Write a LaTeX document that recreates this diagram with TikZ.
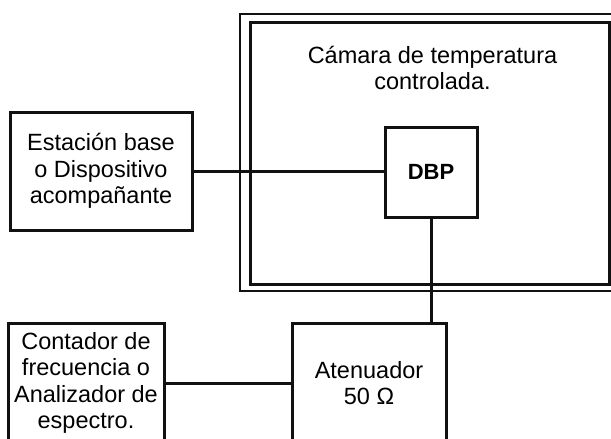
\documentclass[tikz,border=0pt]{standalone}
\usepackage{fontspec}
\setmainfont{Liberation Sans}
\usepackage{xcolor}
\usepackage{tikz}
\definecolor{trazo}{HTML}{111111}
\tikzset{caja/.style={draw=trazo, rectangle, line width=3pt, align=center, inner sep=0pt, font=\fontsize{23.5}{26.5}\selectfont}}

\begin{document}
\begin{tikzpicture}[x=1pt, y=-1pt]%
\path[use as bounding box, clip] (0,0) rectangle (611,439);%
\fill[white] (0,0) rectangle (611,439);%
\draw[draw=trazo, line width=2pt] (240,14) rectangle (622,291);%
\node[draw=trazo, rectangle, line width=3pt, minimum width=359pt, minimum height=262pt] (camara) at (429.5,153) {};%
\node[align=center, font=\fontsize{23.5}{26.5}\selectfont] (titulo) at (432.5,68) {Cámara de temperatura\\controlada.};%
\node[caja, minimum width=92pt, minimum height=90pt, font=\fontsize{22}{26}\selectfont\bfseries] (dbp) at (431,172) {DBP};%
\node[caja, minimum width=182pt, minimum height=118pt] (estacion) at (101,171) {Estación base\\o Dispositivo\\acompañante};%
\node[caja, minimum width=156pt, minimum height=120pt] (contador) at (86,383) {Contador de\\frecuencia o\\Analizador de\\espectro.};%
\node[caja, minimum width=154pt, minimum height=120pt] (atenuador) at (369,383) {Atenuador\\50 Ω};%
\draw[draw=trazo, line width=3pt] (estacion.east) -- (estacion.east -| dbp.west);%
\draw[draw=trazo, line width=3pt] (dbp.south) -- (dbp.south |- atenuador.north);%
\draw[draw=trazo, line width=3pt] (contador.east) -- (atenuador.west);%
\end{tikzpicture}
\end{document}
